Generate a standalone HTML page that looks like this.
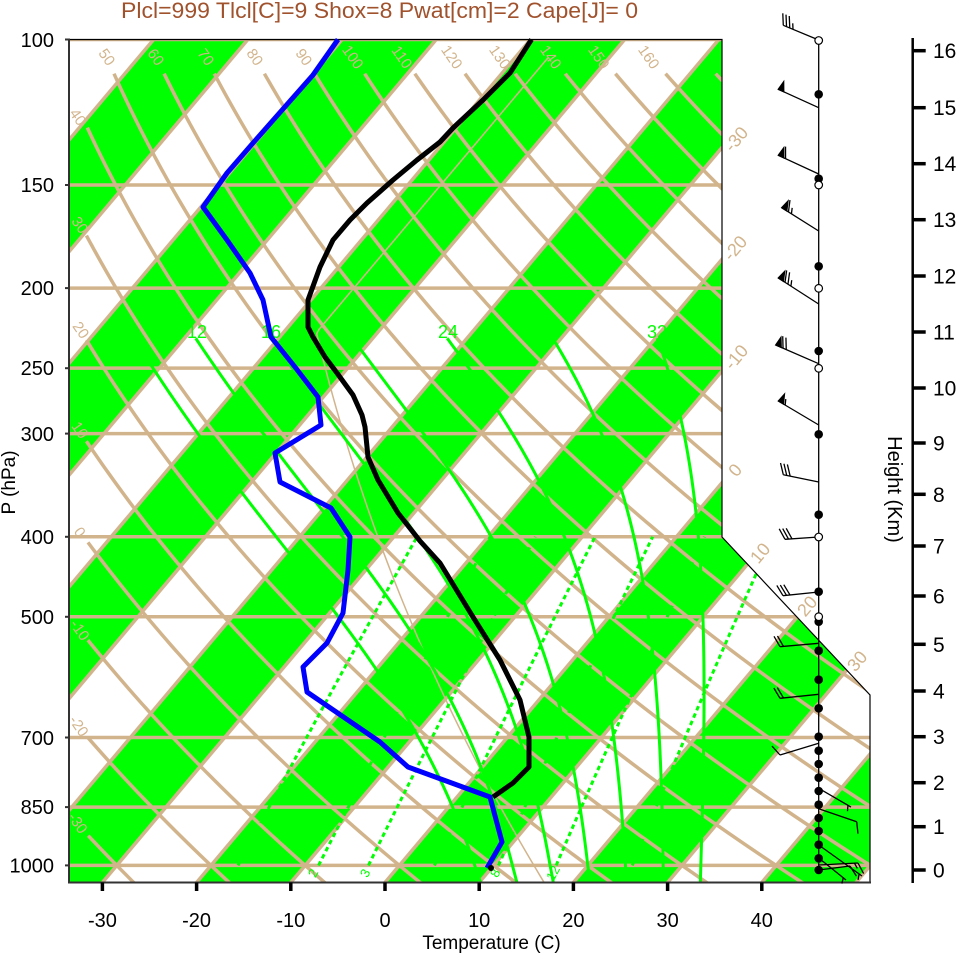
<!DOCTYPE html>
<html><head><meta charset="utf-8">
<style>
html,body{margin:0;padding:0;background:#fff;}
svg{display:block;}
text{font-family:"Liberation Sans",Arial,sans-serif;}
</style></head>
<body>
<svg id="s" width="961" height="957" viewBox="0 0 961 957" xmlns="http://www.w3.org/2000/svg">
<defs><clipPath id="cp"><polygon points="69,39.5 722,39.5 722,537 870,695 870,882.5 69,882.5"/></clipPath></defs>
<rect x="0" y="0" width="961" height="957" fill="#fff"/>
<g id="bands" clip-path="url(#cp)" fill="#00ff00"></g>
<g id="tan" clip-path="url(#cp)" stroke="#d2b48c" stroke-width="3.5" fill="none"></g>
<g id="std" clip-path="url(#cp)" stroke="#d2b48c" stroke-width="1.5" fill="none"></g>
<g id="moist" clip-path="url(#cp)" stroke="#00ff00" stroke-width="3" fill="none"></g>
<g id="mix" clip-path="url(#cp)" stroke="#00ff00" stroke-width="3" fill="none" stroke-dasharray="4.5,3.5"></g>

<!-- borders -->
<polyline points="69,39.5 722,39.5 722,537 870,695 870,882.5" fill="none" stroke="#000" stroke-width="1.2"/>
<line x1="69" y1="38.5" x2="69" y2="883.5" stroke="#333" stroke-width="2"/>
<line x1="68" y1="882.5" x2="871" y2="882.5" stroke="#333" stroke-width="2"/>
<g stroke="#333" stroke-width="2">
<line x1="65" y1="39.5" x2="69" y2="39.5"/><line x1="65" y1="185" x2="69" y2="185"/><line x1="65" y1="288.1" x2="69" y2="288.1"/>
<line x1="65" y1="368.2" x2="69" y2="368.2"/><line x1="65" y1="433.6" x2="69" y2="433.6"/><line x1="65" y1="536.8" x2="69" y2="536.8"/>
<line x1="65" y1="616.8" x2="69" y2="616.8"/><line x1="65" y1="737.5" x2="69" y2="737.5"/><line x1="65" y1="807.1" x2="69" y2="807.1"/>
<line x1="65" y1="865.4" x2="69" y2="865.4"/>
</g>
<g stroke="#000" stroke-width="3.5">
<line x1="102.4" y1="882.5" x2="102.4" y2="891"/><line x1="196.6" y1="882.5" x2="196.6" y2="891"/><line x1="290.8" y1="882.5" x2="290.8" y2="891"/>
<line x1="385" y1="882.5" x2="385" y2="891"/><line x1="479.2" y1="882.5" x2="479.2" y2="891"/><line x1="573.4" y1="882.5" x2="573.4" y2="891"/>
<line x1="667.6" y1="882.5" x2="667.6" y2="891"/><line x1="761.8" y1="882.5" x2="761.8" y2="891"/>
</g>

<!-- title -->
<text x="121" y="18" font-size="22" fill="#a0522d" textLength="517" lengthAdjust="spacingAndGlyphs">Plcl=999 Tlcl[C]=9 Shox=8 Pwat[cm]=2 Cape[J]= 0</text>

<!-- pressure labels -->
<g font-size="20" fill="#000" text-anchor="end">
<text x="54" y="47">100</text><text x="54" y="192">150</text><text x="54" y="295">200</text>
<text x="54" y="375">250</text><text x="54" y="441">300</text><text x="54" y="544">400</text>
<text x="54" y="624">500</text><text x="54" y="745">700</text><text x="54" y="814">850</text>
<text x="54" y="872.5">1000</text>
</g>
<text x="15" y="482.5" font-size="19" text-anchor="middle" transform="rotate(-90 15 482.5)">P (hPa)</text>

<!-- temperature labels -->
<g font-size="20" fill="#000" text-anchor="middle">
<text x="102.4" y="927">-30</text><text x="196.6" y="927">-20</text><text x="290.8" y="927">-10</text>
<text x="385" y="927">0</text><text x="479.2" y="927">10</text><text x="573.4" y="927">20</text>
<text x="667.6" y="927">30</text><text x="761.8" y="927">40</text>
</g>
<text x="491.5" y="949" font-size="19" text-anchor="middle">Temperature (C)</text>

<!-- dry adiabat labels -->
<g font-size="15" fill="#d2b48c" text-anchor="middle">
<text transform="translate(78,117) rotate(55)" dy="0.35em">40</text>
<text transform="translate(80,225) rotate(55)" dy="0.35em">30</text>
<text transform="translate(81,330) rotate(55)" dy="0.35em">20</text>
<text transform="translate(80,430) rotate(55)" dy="0.35em">10</text>
<text transform="translate(80,532) rotate(55)" dy="0.35em">0</text>
<text transform="translate(80,630) rotate(55)" dy="0.35em">-10</text>
<text transform="translate(79,726) rotate(55)" dy="0.35em">-20</text>
<text transform="translate(78,823) rotate(55)" dy="0.35em">-30</text>
<text transform="translate(107,57) rotate(55)" dy="0.35em">50</text>
<text transform="translate(156,57) rotate(55)" dy="0.35em">60</text>
<text transform="translate(206,57) rotate(55)" dy="0.35em">70</text>
<text transform="translate(255,57) rotate(55)" dy="0.35em">80</text>
<text transform="translate(304,57) rotate(55)" dy="0.35em">90</text>
<text transform="translate(353,57) rotate(55)" dy="0.35em">100</text>
<text transform="translate(402,57) rotate(55)" dy="0.35em">110</text>
<text transform="translate(452,57) rotate(55)" dy="0.35em">120</text>
<text transform="translate(500,57) rotate(55)" dy="0.35em">130</text>
<text transform="translate(551,57) rotate(55)" dy="0.35em">140</text>
<text transform="translate(599,57) rotate(55)" dy="0.35em">150</text>
<text transform="translate(649,57) rotate(55)" dy="0.35em">160</text>
</g>
<!-- isotherm labels -->
<g font-size="18" fill="#d2b48c" text-anchor="middle">
<text transform="translate(736,139) rotate(-50)" dy="0.35em">-30</text>
<text transform="translate(735,248) rotate(-50)" dy="0.35em">-20</text>
<text transform="translate(736,357) rotate(-50)" dy="0.35em">-10</text>
<text transform="translate(735,470) rotate(-50)" dy="0.35em">0</text>
<text transform="translate(760,553) rotate(-50)" dy="0.35em">10</text>
<text transform="translate(807,606) rotate(-50)" dy="0.35em">20</text>
<text transform="translate(857,661) rotate(-50)" dy="0.35em">30</text>
</g>
<!-- moist adiabat labels -->
<g font-size="18" fill="#00ff00" text-anchor="middle">
<text x="197" y="338">12</text><text x="271" y="338">16</text><text x="448" y="338">24</text><text x="657" y="338">32</text>
</g>
<!-- mixing ratio labels -->
<g font-size="13" fill="#00ff00" text-anchor="middle">
<text transform="translate(313,873) rotate(-62)" dy="0.35em">2</text>
<text transform="translate(365,873) rotate(-62)" dy="0.35em">3</text>
<text transform="translate(495,873) rotate(-62)" dy="0.35em">8</text>
<text transform="translate(553,873) rotate(-62)" dy="0.35em">12</text>
</g>

<!-- soundings -->
<polyline fill="none" stroke="#000" stroke-width="5" stroke-linejoin="round" points="531.5,39.5 510,73 483,100 453,128 440,142 417,160 393,180 367,203 350,220 333,240 320,267 308,300 308,327 313,337 325,357 337,373 353,395 362,415 365,427 368,457 378,480 398,513 420,541 440,563 473,617 500,660 520,700 529,737 529,767 513,783 493,797"/>
<polyline fill="none" stroke="#0000ff" stroke-width="5" stroke-linejoin="round" points="338,39.5 313,75 253,143 227,173 203,207 227,240 250,273 263,300 271,337 295,367 318,397 321,425 275,453 280,482 331,508 350,537 348,570 343,613 327,643 303,667 307,692 380,742 408,767 490,797 502,842 487,868"/>
<circle cx="491" cy="868" r="3" fill="#000"/>

<!-- wind staff -->
<line x1="818.7" y1="40" x2="818.7" y2="870" stroke="#000" stroke-width="1.3"/>
<g id="barbs" stroke="#000" stroke-width="1.3" fill="none"></g>
<g fill="#000">
<circle cx="818.7" cy="94.3" r="4.3"/><circle cx="818.7" cy="178.7" r="4.3"/><circle cx="818.7" cy="266.3" r="4.3"/>
<circle cx="818.7" cy="351" r="4.3"/><circle cx="818.7" cy="434.3" r="4.3"/><circle cx="818.7" cy="514.7" r="4.3"/>
<circle cx="818.7" cy="591.7" r="4.3"/><circle cx="818.7" cy="621.7" r="4.3"/><circle cx="818.7" cy="650.7" r="4.3"/>
<circle cx="818.7" cy="679.7" r="4.3"/><circle cx="818.7" cy="708.3" r="4.3"/><circle cx="818.7" cy="736.7" r="4.3"/>
<circle cx="818.7" cy="750.7" r="4.3"/><circle cx="818.7" cy="764" r="4.3"/><circle cx="818.7" cy="777.7" r="4.3"/>
<circle cx="818.7" cy="791" r="4.3"/><circle cx="818.7" cy="804.7" r="4.3"/><circle cx="818.7" cy="818" r="4.3"/>
<circle cx="818.7" cy="831" r="4.3"/><circle cx="818.7" cy="844.7" r="4.3"/><circle cx="818.7" cy="858.3" r="4.3"/>
<circle cx="818.7" cy="870" r="4.3"/>
</g>
<g fill="#fff" stroke="#000" stroke-width="1.2">
<circle cx="818.7" cy="40.5" r="3.8"/><circle cx="818.7" cy="185" r="3.8"/><circle cx="818.7" cy="288.3" r="3.8"/>
<circle cx="818.7" cy="368.3" r="3.8"/><circle cx="818.7" cy="537" r="3.8"/><circle cx="818.7" cy="616.7" r="3.8"/>
</g>

<!-- height axis -->
<line x1="912.7" y1="38" x2="912.7" y2="883" stroke="#000" stroke-width="2.5"/>
<g stroke="#000" stroke-width="3.5">
<line x1="912" y1="50.7" x2="925.7" y2="50.7"/><line x1="912" y1="107.7" x2="925.7" y2="107.7"/><line x1="912" y1="163.7" x2="925.7" y2="163.7"/>
<line x1="912" y1="219.7" x2="925.7" y2="219.7"/><line x1="912" y1="276" x2="925.7" y2="276"/><line x1="912" y1="332" x2="925.7" y2="332"/>
<line x1="912" y1="388" x2="925.7" y2="388"/><line x1="912" y1="443" x2="925.7" y2="443"/><line x1="912" y1="494.3" x2="925.7" y2="494.3"/>
<line x1="912" y1="546" x2="925.7" y2="546"/><line x1="912" y1="596" x2="925.7" y2="596"/><line x1="912" y1="644.3" x2="925.7" y2="644.3"/>
<line x1="912" y1="691" x2="925.7" y2="691"/><line x1="912" y1="736.7" x2="925.7" y2="736.7"/><line x1="912" y1="782.7" x2="925.7" y2="782.7"/>
<line x1="912" y1="826.7" x2="925.7" y2="826.7"/><line x1="912" y1="870" x2="925.7" y2="870"/>
</g>
<g font-size="21" fill="#000">
<text x="933" y="58.2">16</text><text x="933" y="115.2">15</text><text x="933" y="171.2">14</text>
<text x="933" y="227.2">13</text><text x="933" y="283.5">12</text><text x="933" y="339.5">11</text>
<text x="933" y="395.5">10</text><text x="933" y="450.5">9</text><text x="933" y="501.8">8</text>
<text x="933" y="553.5">7</text><text x="933" y="603.5">6</text><text x="933" y="651.8">5</text>
<text x="933" y="698.5">4</text><text x="933" y="744.2">3</text><text x="933" y="790.2">2</text>
<text x="933" y="834.2">1</text><text x="933" y="877.5">0</text>
</g>
<text x="888" y="489.5" font-size="20" text-anchor="middle" transform="rotate(90 888 489.5)">Height (Km)</text>
</svg>
<script>
(function(){
var X0=385,S=9.42,K=0.843,YB=882.5,Y0=39.5,B=358.7;
function yp(p){return Y0+B*Math.log(p/100);}
function xt(T,p){return X0+S*T+K*(YB-yp(p));}
var NS="http://www.w3.org/2000/svg";
function add(gid,tag,a){var e=document.createElementNS(NS,tag);for(var k in a)e.setAttribute(k,a[k]);document.getElementById(gid).appendChild(e);return e;}
function pd(pts){var s='';for(var i=0;i<pts.length;i++){s+=(i?'L':'M')+pts[i][0].toFixed(2)+' '+pts[i][1].toFixed(2);}return s;}
var H=YB-Y0;
for(var T0=-100;T0<=40;T0+=20){
  var a=X0+S*T0,b=X0+S*(T0+10);
  add('bands','polygon',{points:a+','+YB+' '+(a+K*H)+','+Y0+' '+(b+K*H)+','+Y0+' '+b+','+YB});
}
for(var T=-110;T<=60;T+=10){var a2=X0+S*T;add('tan','line',{x1:a2,y1:YB,x2:a2+K*H,y2:Y0});}
[100,150,200,250,300,400,500,700,850,1000].forEach(function(p){var y=yp(p);add('tan','line',{x1:60,y1:y,x2:880,y2:y});});
for(var th=-30;th<=170;th+=10){
  var pts=[];
  for(var i=0;i<=240;i++){
    var p=110*Math.pow(1050/110,i/240);
    var Tc=(th+273.15)*Math.pow(p/1000,0.2857)-273.15;
    var x=xt(Tc,p),y=yp(p);
    if(pts.length==0&&x<86)continue;
    pts.push([x,y]);
  }
  if(pts.length>1)add('tan','path',{d:pd(pts)});
}
var sp=[];
for(var i=0;i<=200;i++){var p=1050*Math.pow(105/1050,i/200);var Tk=p>226.32?288.15*Math.pow(p/1013.25,0.190263):216.65;sp.push([xt(Tk-273.15,p),yp(p)]);}
add('std','path',{d:pd(sp)});
function es(Tc){return 6.112*Math.exp(17.67*Tc/(Tc+243.5));}
function dTdp(T,p){var Tc=T-273.15,e=es(Tc),rs=0.622*e/(p-e),Lv=2.501e6-2370*Tc;return (287.04*T+Lv*rs)/(p*(1005.7+Lv*Lv*rs*0.622/(287.04*T*T)));}
function rk(T,p,h){var k1=dTdp(T,p),k2=dTdp(T+h*k1/2,p+h/2),k3=dTdp(T+h*k2/2,p+h/2),k4=dTdp(T+h*k3,p+h);return T+h*(k1+2*k2+2*k3+k4)/6;}
var tgt={12:-68.8,16:-60.8,24:-42.1,28:-30.9,32:-19.8};
var wl=[8,12,16,20,24,28,32],res={};
wl.forEach(function(w){
  var up=[[1000,w+273.15]],T=w+273.15,p=1000;
  while(p>230.001){var h=Math.max(-2,230-p);T=rk(T,p,h);p+=h;up.push([p,T]);}
  var dn=[];T=w+273.15;p=1000;
  while(p<1050){T=rk(T,p,2);p+=2;dn.unshift([p,T]);}
  res[w]={pts:dn.concat(up),top:up[up.length-1][1]-273.15};
});
var dl={};
wl.forEach(function(w){if(tgt[w]!==undefined){var d=tgt[w]-res[w].top;dl[w]=(isFinite(d)&&Math.abs(d)<10)?d:0;}});
dl[8]=dl[12];dl[20]=(dl[16]+dl[24])/2;
var LN=Math.log(1000/230);
wl.forEach(function(w){
  var pts=res[w].pts.map(function(q){var f=Math.log(1000/q[0])/LN;if(f<0)f=0;var Tc=q[1]-273.15+dl[w]*f;return [xt(Tc,q[0]),yp(q[0])];});
  add('moist','path',{d:pd(pts)});
});
[1,2,3,5,8,12,20].forEach(function(w){
  var pts=[];
  for(var p=1000;p>=400;p-=10){var e=w*p/(622+w),l=Math.log(e/6.112),Tc=243.5*l/(17.67-l);pts.push([xt(Tc,p),yp(p)]);}
  add('mix','path',{d:pd(pts)});
});
var barbs=[[40,783.3,25.3,'BBBb'],[107.7,778.3,89.3,'F'],[174,778.3,155.3,'FB'],[231,781.7,207.7,'FBb'],[304,778.3,278,'FBBb'],[363.7,775.7,345,'FBB'],[425,778.3,401,'Fb'],[482,783.3,474.7,'BBB'],[537,785,539.3,'BBB'],[592,783,595.7,'BBB'],[643.3,780,646.7,'BB'],[694.3,780,698.3,'BB'],[743.3,780,755,'B'],[788.3,851,807,'b'],[808.7,856.7,821.7,'B'],[845,862,876,'b'],[865,858,863,'Bb'],[858,846,880,'b'],[870,850,866,'B']];
barbs.forEach(function(b){
  var bx=818.7,by=b[0],tx=b[1],ty=b[2];
  var dx=tx-bx,dy=ty-by,L=Math.sqrt(dx*dx+dy*dy),ux=dx/L,uy=dy/L;
  var an=Math.atan2(uy,ux)+65*Math.PI/180,fx=Math.cos(an),fy=Math.sin(an);
  add('barbs','line',{x1:bx,y1:by,x2:tx,y2:ty});
  var d=0;
  b[3].split('').forEach(function(c){
    var px=tx-ux*d,py=ty-uy*d;
    if(c=='F'){var ix=px-ux*6,iy=py-uy*6;add('barbs','polygon',{points:px+','+py+' '+(ix+fx*10)+','+(iy+fy*10)+' '+ix+','+iy,fill:'#000'});d+=8;}
    else if(c=='B'){add('barbs','line',{x1:px,y1:py,x2:px+fx*12,y2:py+fy*12});d+=3.5;}
    else{if(d==0)d=3.5;px=tx-ux*d;py=ty-uy*d;add('barbs','line',{x1:px,y1:py,x2:px+fx*6,y2:py+fy*6});d+=3.5;}
  });
});
})();
</script>
</body></html>
